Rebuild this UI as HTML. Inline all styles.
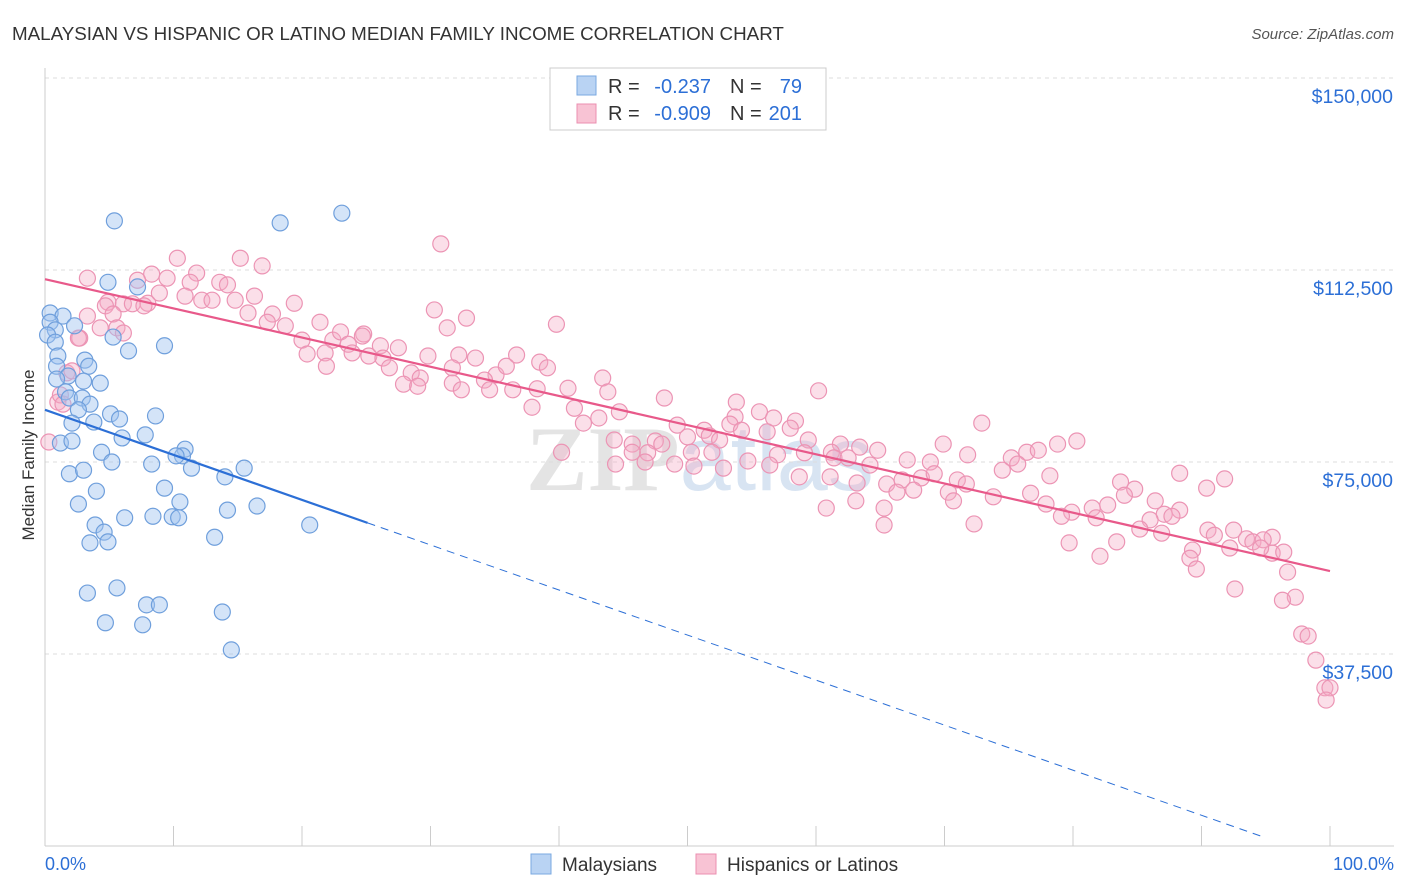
<!DOCTYPE html>
<html><head><meta charset="utf-8">
<style>
body{margin:0;background:#fff;font-family:"Liberation Sans",sans-serif;}
#wrap{position:relative;width:1406px;height:892px;overflow:hidden;}
</style></head>
<body>
<div id="wrap">
<svg id="chart" width="1406" height="892" xmlns="http://www.w3.org/2000/svg">
<text x="12" y="40" font-size="18.8" fill="#333">MALAYSIAN VS HISPANIC OR LATINO MEDIAN FAMILY INCOME CORRELATION CHART</text>
<text x="1394" y="39" font-size="15" fill="#555" font-style="italic" text-anchor="end">Source: ZipAtlas.com</text>
<text x="34" y="455" font-size="17" fill="#333" text-anchor="middle" transform="rotate(-90 34 455)">Median Family Income</text>
<text x="700" y="490" font-size="92" fill="#e4e4e4" text-anchor="middle" font-family="Liberation Serif,serif" font-weight="bold">ZIP<tspan fill="#d8e4f2" font-family="Liberation Sans,sans-serif" font-weight="normal">atlas</tspan></text>
<g id="grid"></g>
<g id="marks"></g>
<g id="lines"></g>
<g>
<rect x="550" y="68" width="276" height="62" fill="#fff" stroke="#ccc"/>
<rect x="577" y="76" width="19" height="19" fill="#b9d3f3" stroke="#7aa8e0"/>
<text x="608" y="93" font-size="20" fill="#333">R =</text>
<text x="711" y="93" font-size="20" fill="#2c6fd6" text-anchor="end">-0.237</text>
<text x="730" y="93" font-size="20" fill="#333">N =</text>
<text x="802" y="93" font-size="20" fill="#2c6fd6" text-anchor="end">79</text>
<rect x="577" y="104" width="19" height="19" fill="#f8c3d4" stroke="#eb8fb0"/>
<text x="608" y="120" font-size="20" fill="#333">R =</text>
<text x="711" y="120" font-size="20" fill="#2c6fd6" text-anchor="end">-0.909</text>
<text x="730" y="120" font-size="20" fill="#333">N =</text>
<text x="802" y="120" font-size="20" fill="#2c6fd6" text-anchor="end">201</text>
</g>
<g>
<rect x="531" y="854" width="20" height="20" fill="#b9d3f3" stroke="#7aa8e0"/>
<text x="562" y="871" font-size="19" fill="#333">Malaysians</text>
<rect x="696" y="854" width="20" height="20" fill="#f8c3d4" stroke="#eb8fb0"/>
<text x="727" y="871" font-size="19" fill="#333">Hispanics or Latinos</text>
</g>
<text x="45" y="870" font-size="18" fill="#2c6fd6">0.0%</text>
<text x="1394" y="870" font-size="18" fill="#2c6fd6" text-anchor="end">100.0%</text>
</svg>
</div>
<script>
const yTicks=[37500,75000,112500,150000];
const yTickLabels=["$37,500","$75,000","$112,500","$150,000"];
const xTicks=[0,10,20,30,40,50,60,70,80,90,100];
const blueX=[5.4,18.3,23.1,4.9,7.2,0.4,1.4,0.4,2.3,0.8,0.2,5.3,0.8,9.3,6.5,1.0,3.1,0.9,3.4,1.8,0.9,3.0,4.3,1.6,1.9,2.9,3.5,2.6,5.1,8.6,5.8,3.8,2.1,6.0,7.8,1.2,2.1,10.9,4.4,10.7,10.2,5.2,8.3,11.4,15.5,1.9,3.0,14.0,9.3,4.0,10.5,2.6,16.5,14.2,6.2,8.4,9.9,10.4,3.9,20.6,4.6,13.2,3.5,4.9,5.6,3.3,7.9,8.9,13.8,4.7,7.6,14.5];
const blueY=[122.1,121.7,123.6,110.1,109.2,104.1,103.5,102.3,101.6,100.8,99.8,99.4,98.4,97.7,96.7,95.7,94.9,93.7,93.7,91.8,91.2,90.8,90.4,88.7,87.5,87.5,86.3,85.2,84.4,84.0,83.4,82.8,82.6,79.7,80.3,78.7,79.1,77.5,76.9,76.2,76.2,75.0,74.6,73.8,73.8,72.7,73.4,72.1,69.9,69.3,67.2,66.8,66.4,65.6,64.1,64.4,64.3,64.1,62.7,62.7,61.3,60.3,59.2,59.4,50.4,49.4,47.1,47.1,45.7,43.6,43.2,38.3];
const pinkX=[30.8,10.3,15.2,16.9,8.3,11.8,3.3,9.5,7.2,11.3,13.6,14.2,8.9,10.9,16.3,4.9,6.1,8.0,12.2,13.0,14.8,19.4,4.7,6.8,7.7,3.3,5.3,15.8,17.7,30.3,32.8,39.8,4.3,5.6,17.3,18.7,21.4,31.3,2.7,6.1,20.0,22.4,23.0,24.8,23.6,24.7,26.1,27.5,20.4,21.8,23.9,25.2,26.3,29.8,32.2,33.5,36.7,38.5,21.9,26.8,28.5,31.7,35.1,35.9,39.1,29.2,27.9,29.0,31.7,34.2,43.4,32.4,34.6,36.4,38.3,40.7,43.8,48.2,53.8,60.2,37.9,41.2,44.7,43.1,53.7,55.6,56.7,58.4,53.3,41.9,49.2,51.3,54.2,58.0,72.9,40.2,44.3,45.7,47.5,50.0,51.7,52.5,56.2,59.4,61.9,63.4,64.8,69.9,78.8,80.3,46.9,45.7,48.0,50.3,51.9,54.7,57.0,59.1,61.2,61.4,62.5,64.2,67.1,68.9,71.8,75.2,76.4,77.3,75.7,46.7,49.0,50.5,56.4,44.4,52.8,58.7,61.1,63.2,65.5,66.7,68.2,69.2,71.0,74.5,78.2,88.3,91.8,90.4,66.3,67.6,70.3,71.7,76.7,83.7,84.8,86.4,77.9,81.5,82.7,84.0,73.8,79.9,81.8,63.1,65.3,60.8,70.7,88.3,87.1,86.0,87.7,90.5,92.5,91.0,93.5,95.5,94.0,94.8,72.3,65.3,79.1,85.2,86.9,83.4,79.7,89.3,95.5,82.1,89.1,92.2,94.6,96.4,89.6,96.7,92.6,97.3,96.3,97.8,98.3,98.9,99.6,100,99.7,0.3,1.0,1.7,2.1,1.2,2.6,1.4];
const pinkY=[117.6,114.8,114.8,113.3,111.7,111.9,110.9,110.9,110.5,110.1,110.1,109.6,108.0,107.4,107.4,106.2,105.9,106.0,106.6,106.6,106.6,106.0,105.5,105.9,105.5,103.5,103.9,104.1,103.9,104.7,103.1,101.9,101.2,101.2,102.3,101.6,102.3,101.2,99.2,100.2,98.8,98.8,100.4,100.0,98.0,99.6,97.7,97.3,96.1,96.3,96.3,95.7,95.3,95.7,95.9,95.3,95.9,94.5,93.7,93.4,92.4,93.4,92.0,93.7,93.4,91.4,90.2,89.8,90.4,91.0,91.4,89.1,89.1,89.1,89.3,89.4,88.7,87.5,86.7,88.9,85.7,85.5,84.8,83.6,83.8,84.8,83.6,83.0,82.4,82.6,82.2,81.2,81.2,81.6,82.6,76.9,79.3,78.5,79.1,79.9,80.1,79.3,80.9,79.3,78.5,77.9,77.3,78.5,78.5,79.1,76.8,76.9,78.5,76.9,76.9,75.2,76.4,76.8,76.9,75.8,75.8,74.4,75.4,75.0,76.4,75.8,76.9,77.3,74.6,75.0,74.6,74.2,74.4,74.6,73.8,72.1,72.1,70.9,70.7,71.5,71.9,72.7,71.5,73.4,72.3,72.8,71.7,69.9,69.1,69.5,69.1,70.7,68.9,71.1,69.7,67.4,66.8,66.0,66.6,68.5,68.2,65.2,64.1,67.4,66.0,66.0,67.4,65.6,64.8,63.7,64.4,61.7,61.7,60.7,60.0,60.3,59.4,59.8,62.9,62.7,64.4,61.9,61.1,59.4,59.2,57.8,57.2,56.6,56.2,58.2,58.2,57.4,54.1,53.5,50.2,48.6,48.0,41.4,41.0,36.3,30.9,30.9,28.5,78.9,86.7,92.4,92.8,88.1,99.2,86.3];
const blueTrend=[85.2,-0.88];
const pinkTrend=[110.7,-0.57];

const NS="http://www.w3.org/2000/svg";
const X0=45,X1=1330,YB=846,YT=78;
function xs(p){return X0+(X1-X0)*p/100;}
function ys(v){return YB-(YB-YT)*v/150000;}
function mk(tag,attrs,parent){const e=document.createElementNS(NS,tag);for(const k in attrs)e.setAttribute(k,attrs[k]);parent.appendChild(e);return e;}
const grid=document.getElementById('grid'),marks=document.getElementById('marks'),lines=document.getElementById('lines');
yTicks.forEach((t,i)=>{
  const l=mk('line',{x1:X0,x2:1394,y1:ys(t),y2:ys(t),stroke:'#ddd','stroke-dasharray':'4,4'},grid);
  
  
  const tx=mk('text',{x:1393,y:ys(t)+25,'font-size':19.5,fill:'#2c6fd6','text-anchor':'end'},grid);
  tx.textContent=yTickLabels[i];
  
  
});
const ax=mk('line',{x1:X0,x2:X0,y1:68,y2:YB,stroke:'#ccc'},grid);


const bx=mk('line',{x1:X0,x2:1394,y1:YB,y2:YB,stroke:'#ccc'},grid);


xTicks.forEach(t=>{
  const l=mk('line',{x1:xs(t),x2:xs(t),y1:YB-20,y2:YB,stroke:'#ccc'},grid);
  
  
});
function pts(X,Y,fill,stroke,name){
  X.forEach((x,i)=>{
    const c=mk('circle',{cx:xs(x),cy:ys(Y[i]*1000),r:8,fill:fill,stroke:stroke,'stroke-width':1.2},marks);
    
    
  });
}
pts(pinkX,pinkY,'rgba(244,170,196,0.38)','#ec94b4','hispanic-point');
pts(blueX,blueY,'rgba(160,196,240,0.45)','#6f9fdc','malaysian-point');
function tl(tr,a,b,color,dash,name){
  const l=mk('line',{x1:xs(a),y1:ys((tr[0]+tr[1]*a)*1000),x2:xs(b),y2:ys((tr[0]+tr[1]*b)*1000),stroke:color,'stroke-width':dash?1:2.2},lines);
  if(dash)l.setAttribute('stroke-dasharray','8,6');
  
  
}
tl(blueTrend,0,25.1,'#2c6fd6',false,'malaysian-trendline');
tl(blueTrend,25.1,94.6,'#2c6fd6',true,'malaysian-trendline-extension');
tl(pinkTrend,0,100,'#e8598a',false,'hispanic-trendline');
</script>
</body></html>
